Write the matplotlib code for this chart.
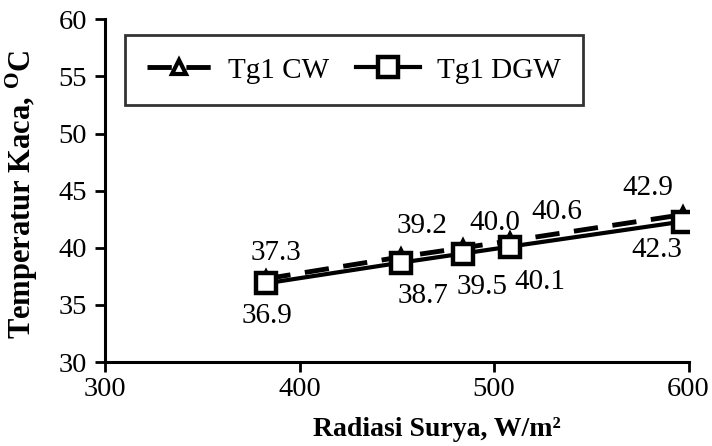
import matplotlib
matplotlib.use('Agg')
import matplotlib.pyplot as plt

plt.rcParams['font.family'] = ['Liberation Serif', 'DejaVu Serif']
plt.rcParams['mathtext.default'] = 'regular'

# %% data
radiasi = [383, 452, 484, 508, 597]
tg1_cw = [37.3, 39.2, 40.0, 40.6, 42.9]
tg1_dgw = [36.9, 38.7, 39.5, 40.1, 42.3]

# label offsets in pixels (dx, dy) relative to each point, y up
cw_offsets = [(9, 26), (21, 31), (32, 25), (47, 29), (-35, 27)]
dgw_offsets = [(1, -33), (22, -33), (19, -33), (30, -35), (-26, -28)]

# %% plot
fig = plt.figure(figsize=(7.12, 4.46), dpi=100)
ax = fig.add_axes([0.1475, 0.188, 0.967 - 0.1475, 0.957 - 0.188])

ax.plot(radiasi, tg1_cw, color='black', lw=3.5, dashes=(5, 3),
        marker='^', ms=10, mfc='white', mec='black', mew=3, label='Tg1 CW', zorder=3)
ax.plot(radiasi, tg1_dgw, color='black', lw=3,
        marker='s', ms=15, mfc='white', mec='black', mew=3.2, label='Tg1 DGW', zorder=4)

px = 72 / 100.0
for x, y, (dx, dy) in zip(radiasi, tg1_cw, cw_offsets):
    ax.annotate('%.1f' % y, (x, y), xytext=(dx * px, dy * px), textcoords='offset points',
                ha='center', va='center', fontsize=21)
for x, y, (dx, dy) in zip(radiasi, tg1_dgw, dgw_offsets):
    ax.annotate('%.1f' % y, (x, y), xytext=(dx * px, dy * px), textcoords='offset points',
                ha='center', va='center', fontsize=21)

ax.set_xlim(300, 600)
ax.set_ylim(30, 60)
ax.set_xticks([300, 400, 500, 600])
ax.set_yticks([30, 35, 40, 45, 50, 55, 60])
ax.tick_params(labelsize=20.5, width=2, length=7, direction='out')
ax.tick_params(axis='y', pad=6)

for side in ['top', 'right']:
    ax.spines[side].set_visible(False)
for side in ['left', 'bottom']:
    ax.spines[side].set_linewidth(2.2)

ax.set_xlabel('Radiasi Surya, W/m²', fontsize=20, fontweight='bold')
ax.xaxis.set_label_coords(0.569, -0.160)
ax.set_ylabel('Temperatur Kaca, $^{O}$C', fontsize=22, fontweight='bold')
ax.yaxis.set_label_coords(-0.111, 0.49)

leg = ax.legend(loc='upper left', bbox_to_anchor=(0.034, 0.953), borderaxespad=0,
                ncol=2, fontsize=21, frameon=True, fancybox=False, edgecolor='black',
                handlelength=2.2, columnspacing=0.9, handletextpad=0.6, borderpad=0.75)
leg.get_frame().set_linewidth(2)

fig.savefig('out.png', dpi=100)
